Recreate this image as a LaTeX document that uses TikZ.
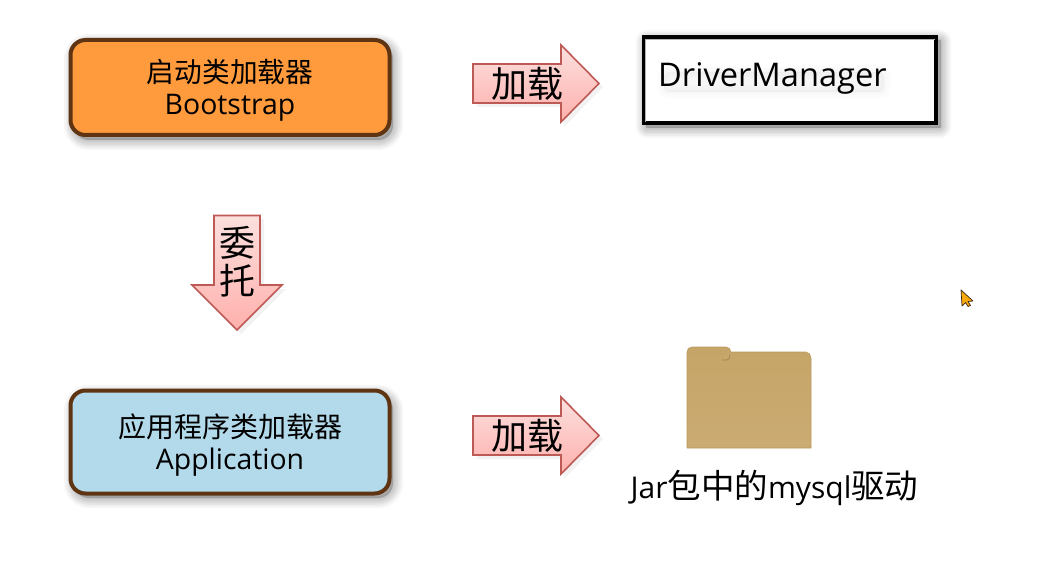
\documentclass[tikz,border=0pt]{standalone}
\usepackage{fontspec}
\setmainfont{Open Sans}
\newfontfamily\cjk{Noto Sans CJK SC}
\definecolor{boxbrown}{HTML}{5E3413}
\definecolor{orangefill}{HTML}{FF9A3D}
\definecolor{bluefill}{HTML}{B3DAEA}
\definecolor{arrowedge}{HTML}{BE5A55}
\definecolor{arrowlight}{HTML}{FBE0DE}
\definecolor{arrowdeep}{HTML}{FFB0AC}
\definecolor{folderedge}{HTML}{B89A62}
\definecolor{foldertop}{HTML}{C6A568}
\definecolor{folderlow}{HTML}{CAAB72}
\definecolor{pointerfill}{HTML}{F7A90E}
\tikzset{
  x=1pt, y=-1pt,
  softedge/.style={draw=black, draw opacity=.035, fill=none, line join=round},
  loaderbox/.style={rectangle, rounded corners=15pt, draw=boxbrown, line width=4pt, inner sep=0pt},
  loadertext/.style={inner sep=0pt, align=center, text=black, font=\fontsize{28.4}{33}\selectfont},
  blockarrow/.style={draw=arrowedge, line width=1.6pt, line join=miter},
  arrowlabel/.style={font=\cjk\fontsize{36}{38}\selectfont, inner sep=0pt, text=black},
  captionlabel/.style={inner sep=0pt, text=black},
}
% Soft drop shadow: stacked translucent outlines around an inset rectangle
\newcommand{\softshadow}[5]{%
  \foreach \w in {20,16,13,10,7,4,1}{
    \draw[softedge, line width=\w pt, rounded corners=#5] (#1,#2) rectangle (#3,#4);
  }%
  \fill[black, opacity=.2, rounded corners=#5] (#1,#2) rectangle (#3,#4);
}
\begin{document}
\begin{tikzpicture}
\useasboundingbox (0,0) rectangle (1039,564);
\fill[white] (0,0) rectangle (1039,564);

% Loader boxes
\softshadow{74}{44}{393}{140}{15pt}
\node[loaderbox, fill=orangefill, minimum width=319pt, minimum height=95pt] (boot) at (230,87.5) {};
\node[loadertext] (boottext) at (230,90.5)
  {{\cjk\fontsize{27.7}{33}\selectfont\raisebox{-1pt}{启动类加载器}}\\Bootstrap};

\softshadow{74}{395}{393}{498}{15pt}
\node[loaderbox, fill=bluefill, minimum width=319pt, minimum height=103pt] (app) at (230,442) {};
\node[loadertext] (apptext) at (230,445)
  {{\cjk\fontsize{28}{33}\selectfont\raisebox{-1pt}{应用程序类加载器}}\\Application};

% DriverManager box, with an inner grey rim and a faint glow behind its caption
\softshadow{646}{40}{941}{128}{1pt}
\node[rectangle, fill=white, draw=black, line width=4.5pt, minimum width=292pt, minimum height=86pt,
      inner sep=0pt] (dm) at (790,80) {};
\draw[black!30, line width=1pt] (645.5,122) -- (645.5,39.5) -- (934.5,39.5);
\foreach \w in {14,10,6,2}{
  \draw[draw=black, draw opacity=.007, fill=black, fill opacity=.007, line width=\w pt,
        rounded corners=5pt] (664,72) rectangle (884,92);
}
\node[captionlabel, anchor=base west, font=\fontsize{32.6}{38}\selectfont] (dmtext) at (658,87) {DriverManager};

% "load" arrows
\foreach \dy/\nm in {0/loadtop,352/loadlow}{
  \begin{scope}[yshift=-\dy pt]
    \fill[black, opacity=.05] (477,68) -- (564,68) -- (564,48) -- (603,87) -- (564,127) -- (564,107) -- (477,107) -- cycle;
    \path[blockarrow, top color=arrowlight, bottom color=arrowdeep]
      (473,64) -- (561,64) -- (561,45) -- (599,83.5) -- (561,122) -- (561,103) -- (473,103) -- cycle;
    \node[arrowlabel] (\nm) at (527,84) {加载};
  \end{scope}
}

% "delegate" arrow
\fill[black, opacity=.05] (218,219) -- (264,219) -- (264,289) -- (286,289) -- (241,334) -- (196,289) -- (218,289) -- cycle;
\path[blockarrow, top color=arrowlight, bottom color=arrowdeep]
  (214,215.5) -- (260,215.5) -- (260,285) -- (282,285) -- (237,330) -- (192,285) -- (214,285) -- cycle;
\node[arrowlabel, align=center, font=\cjk\fontsize{36}{38}\selectfont] (entrust) at (237,262) {委\\托};

% Folder
\path[top color=foldertop, bottom color=folderlow, draw=folderedge, line width=.6pt, line join=round]
  (687,448) -- (687,352) .. controls (687,349) and (689,347) .. (692,347)
  -- (726,347) .. controls (729,347) and (730,349) .. (731,352)
  -- (806,352) .. controls (809,352) and (811,355) .. (811,358) -- (811,448) -- cycle;
\draw[folderedge!85!black, line width=.7pt] (722,360) -- (727,360) .. controls (729,360) and (730,358) .. (730,355);
\node[captionlabel, anchor=base, font=\fontsize{30}{36}\selectfont] (jar) at (774.5,498)
  {Jar{\cjk\fontsize{33.5}{36}\selectfont 包中的}mysql{\cjk\fontsize{33.5}{36}\selectfont 驱动}};

% Mouse pointer
\path[fill=pointerfill, draw=black!70!brown, line width=.7pt, line join=round]
  (961,290) -- (973,301) -- (968,301.5) -- (970.5,305.5) -- (968,306.5) -- (965.5,302.5) -- (962,306) -- cycle;
\end{tikzpicture}
\end{document}
